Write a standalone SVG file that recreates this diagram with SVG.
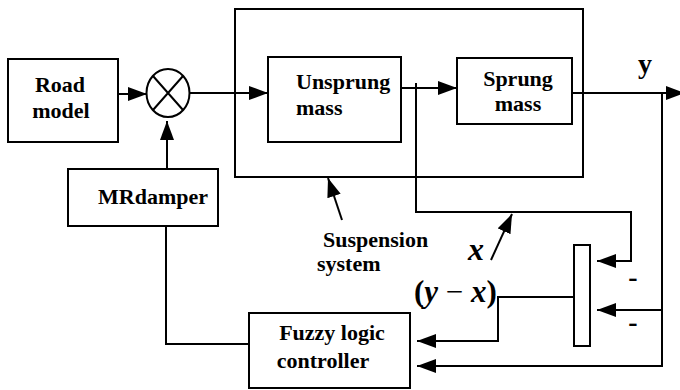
<svg xmlns="http://www.w3.org/2000/svg" width="680" height="390" viewBox="0 0 680 390">
<style>
.box{fill:#fff;stroke:#000;stroke-width:2}
.ln{fill:none;stroke:#000;stroke-width:2}
text{font-family:'Liberation Serif','Times New Roman','DejaVu Serif',serif;font-weight:bold;fill:#000}
.t{font-size:22px}
.m{font-style:italic}
</style>
<defs>
<marker id="ah" markerUnits="userSpaceOnUse" markerWidth="20" markerHeight="16" refX="19" refY="7" orient="auto">
<path d="M0,0 L19,7 L0,14 Z" fill="#000"/>
</marker>
</defs>
<rect width="680" height="390" fill="#fff"/>
<g id="suspension">
<rect class="box" x="235" y="9" width="348" height="168"/>
</g>
<g id="road">
<rect class="box" x="8" y="59" width="110" height="83"/>
<text class="t" x="60" y="92" text-anchor="middle">Road</text>
<text class="t" x="61" y="118" text-anchor="middle">model</text>
</g>
<g id="sum">
<ellipse cx="168" cy="93" rx="21.5" ry="24" fill="#fff" stroke="#000" stroke-width="2"/>
<path class="ln" d="M153,76 L183,110 M183,76 L153,110"/>
</g>
<g id="unsprung">
<rect class="box" x="268" y="57" width="133" height="85"/>
<text class="t" x="296" y="89">Unsprung</text>
<text class="t" x="296" y="115">mass</text>
</g>
<g id="sprung">
<rect class="box" x="457" y="58" width="115" height="66"/>
<text class="t" x="518" y="86" text-anchor="middle">Sprung</text>
<text class="t" x="518" y="111" text-anchor="middle">mass</text>
</g>
<g id="mrdamper">
<rect class="box" x="68" y="169" width="150" height="57"/>
<text class="t" x="153" y="204" text-anchor="middle">MRdamper</text>
</g>
<g id="fuzzy">
<rect class="box" x="249" y="313" width="161" height="75"/>
<text class="t" x="332" y="340" text-anchor="middle">Fuzzy logic</text>
<text class="t" x="323" y="368" text-anchor="middle">controller</text>
</g>
<g id="comparator">
<rect class="box" x="574" y="245" width="16" height="101"/>
</g>
<g id="connectors">
<path class="ln" d="M118,94 L147,94" marker-end="url(#ah)"/>
<path class="ln" d="M189,93 L268,93" marker-end="url(#ah)"/>
<path class="ln" d="M167,169 L167,121" marker-end="url(#ah)"/>
<path class="ln" d="M401,88 L457,88" marker-end="url(#ah)"/>
<path class="ln" d="M572,93 L685,93" marker-end="url(#ah)"/>
<path class="ln" d="M416,83 L416,212 L631,212 L631,261 L597,261" marker-end="url(#ah)"/>
<path class="ln" d="M662,93 L662,366 L417,366" marker-end="url(#ah)"/>
<path class="ln" d="M662,310 L597,310" marker-end="url(#ah)"/>
<path class="ln" d="M574,297 L498,297 L498,341 L417,341" marker-end="url(#ah)"/>
<path class="ln" d="M166,226 L166,344 L249,344"/>
<path class="ln" d="M342,220 L328,178" marker-end="url(#ah)"/>
<path class="ln" d="M491,260 L512,214" marker-end="url(#ah)"/>
</g>
<g id="labels">
<text class="t" x="323" y="247">Suspension</text>
<text class="t" x="317" y="271">system</text>
<text x="645" y="73" text-anchor="middle" style="font-size:28px">y</text>
<text class="m" x="468" y="260" style="font-size:32px">x</text>
<text x="414" y="302" style="font-size:31px">(<tspan style="font-style:italic">y</tspan><tspan style="font-weight:normal"> − </tspan><tspan style="font-style:italic">x</tspan>)</text>
<text x="633" y="286" text-anchor="middle" style="font-size:28px">-</text>
<text x="633" y="331" text-anchor="middle" style="font-size:28px">-</text>
</g>
</svg>
